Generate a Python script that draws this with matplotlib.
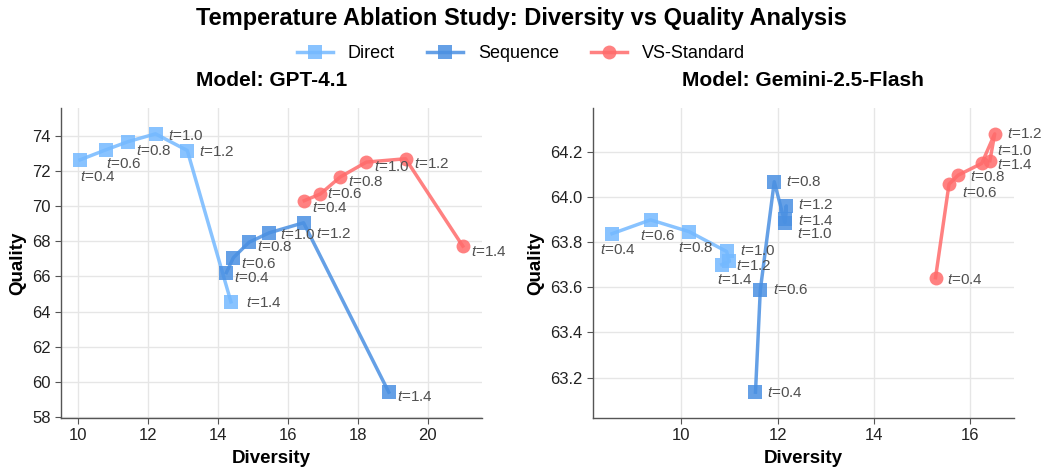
import numpy as np
import matplotlib
matplotlib.use('Agg')
import matplotlib.pyplot as plt

plt.rcParams['font.family'] = ['Liberation Sans', 'DejaVu Sans']
plt.rcParams['mathtext.fontset'] = 'custom'
plt.rcParams['mathtext.it'] = 'Liberation Sans:italic'
plt.rcParams['mathtext.rm'] = 'Liberation Sans'

temps = [0.4, 0.6, 0.8, 1.0, 1.2, 1.4]
methods = ['Direct', 'Sequence', 'VS-Standard']

# GPT-4.1
gpt_div = {'Direct':      [10.05, 10.79, 11.43, 12.21, 13.12, 14.37],
           'Sequence':    [14.24, 14.44, 14.89, 15.47, 16.45, 18.89],
           'VS-Standard': [16.47, 16.93, 17.50, 18.25, 19.37, 21.01]}
gpt_qual = {'Direct':      [72.65, 73.22, 73.69, 74.13, 73.18, 64.55],
            'Sequence':    [66.22, 67.07, 67.95, 68.49, 69.06, 59.40],
            'VS-Standard': [70.32, 70.70, 71.67, 72.52, 72.71, 67.73]}

# Gemini-2.5-Flash
gem_div = {'Direct':      [8.56, 9.36, 10.16, 10.94, 11.00, 10.84],
           'Sequence':    [11.54, 11.64, 11.93, 12.15, 12.18, 12.16],
           'VS-Standard': [15.28, 15.56, 15.75, 16.24, 16.51, 16.41]}
gem_qual = {'Direct':      [63.837, 63.898, 63.846, 63.758, 63.714, 63.700],
            'Sequence':    [63.135, 63.587, 64.067, 63.886, 63.960, 63.900],
            'VS-Standard': [63.642, 64.056, 64.096, 64.148, 64.279, 64.160]}

colors = {'Direct': '#74b9ff', 'Sequence': '#4a90e2', 'VS-Standard': '#ff6b6b'}
markers = {'Direct': 's', 'Sequence': 's', 'VS-Standard': 'o'}

# label offsets in pixels (dx, dy), one per temperature
gpt_offs = {'Direct':      [(0, -17), (0, -14), (8, -9), (12, -2), (12, -1), (15, -1)],
            'Sequence':    [(8, -5), (8, -6), (8, -5), (11, -2), (12, -11), (8, -5)],
            'VS-Standard': [(8, -7), (7, 0), (8, -5), (8, -5), (8, -5), (8, -6)]}
gem_offs = {'Direct':      [(-12, -16), (-11, -16), (-11, -16), (13, 0), (7, -5), (-5, -15)],
            'Sequence':    [(12, -1), (13, 0), (12, 0), (12, -11), (12, 1), (13, -2)],
            'VS-Standard': [(11, -2), (13, -9), (12, -2), (15, 12), (12, 0), (7, -4)]}

fig = plt.figure(figsize=(10.42, 4.69), dpi=100)
ax1 = fig.add_axes([0.0585, 0.1087, 0.404, 0.661])
ax2 = fig.add_axes([0.569, 0.1087, 0.404, 0.661])

panels = [(ax1, 'Model: GPT-4.1', gpt_div, gpt_qual, gpt_offs),
          (ax2, 'Model: Gemini-2.5-Flash', gem_div, gem_qual, gem_offs)]

for ax, title, div, qual, offs in panels:
    for m in methods:
        ax.plot(div[m], qual[m], color=colors[m], marker=markers[m],
                markersize=10, linewidth=2.5, alpha=0.85, label=m,
                markeredgewidth=0, zorder=3)
        for t, x, y, o in zip(temps, div[m], qual[m], offs[m]):
            ax.annotate('$t$=%.1f' % t, (x, y), xytext=o,
                        textcoords='offset pixels', fontsize=11,
                        color='#505050', ha='left', va='center', zorder=4)
    ax.margins(x=0.05, y=0.1)
    ax.set_title(title, fontsize=15, fontweight='bold', pad=16)
    ax.set_xlabel('Diversity', fontsize=13.5, fontweight='bold', labelpad=5)
    ax.set_ylabel('Quality', fontsize=13.5, fontweight='bold', labelpad=4)
    ax.grid(True, color='#e6e6e6', linewidth=1)
    ax.set_axisbelow(True)
    for s in ['top', 'right']:
        ax.spines[s].set_visible(False)
    for s in ['left', 'bottom']:
        ax.spines[s].set_color('#555555')
        ax.spines[s].set_linewidth(1.0)
    ax.tick_params(labelsize=12, length=4, color='#555555', labelcolor='#222222')

ax1.set_yticks(np.arange(58, 75, 2))
ax1.set_xticks(np.arange(10, 21, 2))
ax2.set_yticks([63.2, 63.4, 63.6, 63.8, 64.0, 64.2])
ax2.set_xticks([10, 12, 14, 16])

fig.suptitle('Temperature Ablation Study: Diversity vs Quality Analysis',
             fontsize=17, fontweight='bold', y=0.985)
handles, labels = ax1.get_legend_handles_labels()
fig.legend(handles, labels, loc='center', bbox_to_anchor=(0.5, 0.886),
           ncol=3, frameon=False, fontsize=13, columnspacing=1.8,
           handlelength=2.0, handletextpad=0.8)

fig.savefig('out.png', dpi=100)
